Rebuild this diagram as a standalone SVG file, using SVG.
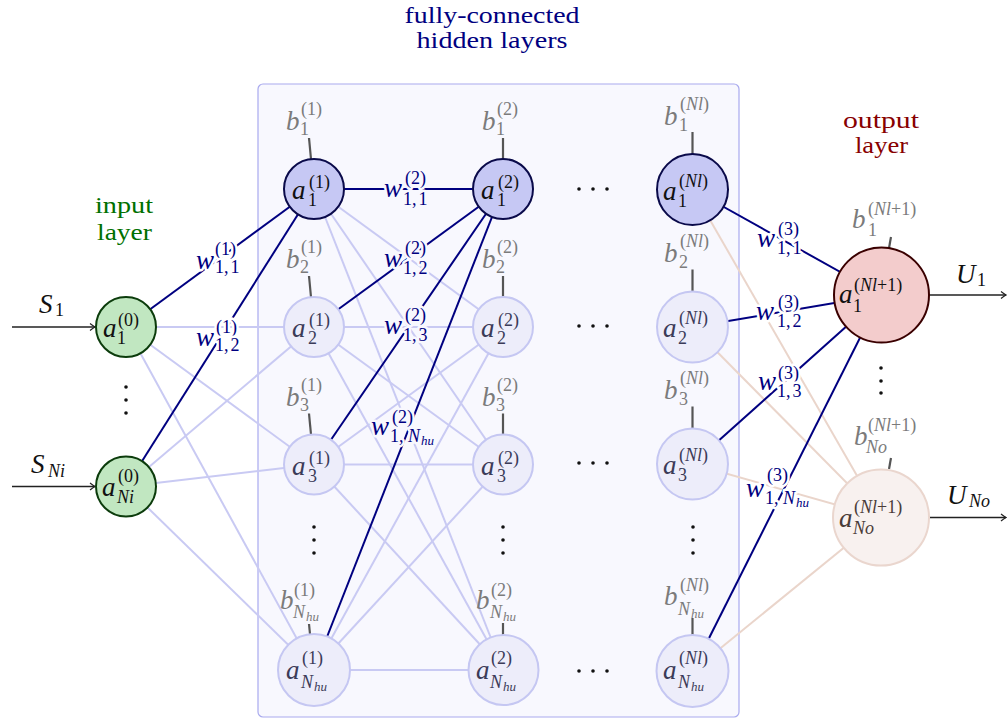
<svg xmlns="http://www.w3.org/2000/svg" width="1008" height="719" viewBox="0 0 1008 719">
  <style>
    .tx { font-family: "Liberation Serif", "DejaVu Serif", serif; }
    .m { font-size: 27px; font-style: italic; }
    .s { font-size: 18px; }
    .ss { font-size: 13px; font-style: italic; }
    .it { font-style: italic; }
    .cap { font-size: 24px; }
    .light { stroke: #c9caf3; stroke-width: 2; fill: none; }
    .beige { stroke: #ead5cb; stroke-width: 2; fill: none; }
    .dark { stroke: #000080; stroke-width: 2; fill: none; }
    .n-in { fill: #c1e7c1; stroke: #0c3c0c; stroke-width: 2; }
    .n-on { fill: #c6c8f4; stroke: #0a0a4a; stroke-width: 2; }
    .n-off { fill: #ededfa; stroke: #c5c7f2; stroke-width: 2; }
    .n-out { fill: #f3cccc; stroke: #3a0000; stroke-width: 2; }
    .n-outoff { fill: #f8f1ef; stroke: #ead6ce; stroke-width: 2; }
    .t-on { fill: #111; }
    .t-off { fill: #3b3b58; }
    .t-outoff { fill: #4a3c38; }
    .bias { fill: #7b7b7b; }
    .tick { stroke: #555; stroke-width: 2.2; }
    .w { fill: #000080; stroke: #ffffff; stroke-width: 5; stroke-linejoin: round; paint-order: stroke; }
    .w-in { stroke: #f8f8fe; }
    .io { stroke: #222; stroke-width: 1.3; fill: none; }
    .dot { fill: #111; }
  </style>
  <defs>
    <marker id="arr" viewBox="-6 -5 7 10" refX="0" refY="0" markerWidth="7" markerHeight="10" markerUnits="userSpaceOnUse" orient="auto">
      <path d="M-5,-3.5 Q-1.5,-0.8 0,0 Q-1.5,0.8 -5,3.5" fill="none" stroke="#222" stroke-width="1.2"/>
    </marker>
  </defs>

  <rect width="1008" height="719" fill="#ffffff"/>

  <!-- hidden layers panel -->
  <rect id="hidden-panel" x="258" y="84" width="481" height="633" rx="5" fill="#f8f8fe" stroke="#a9aaee" stroke-width="1.2"/>

  <!-- captions -->
  <g class="tx cap">
    <text x="404.5" y="23" fill="#000080" textLength="175" lengthAdjust="spacingAndGlyphs">fully-connected</text>
    <text x="416.5" y="48" fill="#000080" textLength="151" lengthAdjust="spacingAndGlyphs">hidden layers</text>
    <text x="95" y="213" fill="#007000" textLength="58" lengthAdjust="spacingAndGlyphs">input</text>
    <text x="97" y="240" fill="#007000" textLength="55" lengthAdjust="spacingAndGlyphs">layer</text>
    <text x="843" y="128" fill="#880000" textLength="76" lengthAdjust="spacingAndGlyphs">output</text>
    <text x="855" y="153" fill="#880000" textLength="53" lengthAdjust="spacingAndGlyphs">layer</text>
  </g>

  <!-- connectors -->
  <g id="connectors">
    <g class="light">
      <line x1="126" y1="327" x2="314" y2="327"/>
      <line x1="126" y1="327" x2="314" y2="464.5"/>
      <line x1="126" y1="327" x2="314" y2="670"/>
      <line x1="126" y1="486.5" x2="314" y2="327"/>
      <line x1="126" y1="486.5" x2="314" y2="464.5"/>
      <line x1="126" y1="486.5" x2="314" y2="670"/>
      <line x1="314" y1="189" x2="503" y2="327"/>
      <line x1="314" y1="189" x2="503" y2="464.5"/>
      <line x1="314" y1="189" x2="503.5" y2="670"/>
      <line x1="314" y1="327" x2="503" y2="327"/>
      <line x1="314" y1="327" x2="503" y2="464.5"/>
      <line x1="314" y1="327" x2="503.5" y2="670"/>
      <line x1="314" y1="464.5" x2="503" y2="327"/>
      <line x1="314" y1="464.5" x2="503" y2="464.5"/>
      <line x1="314" y1="464.5" x2="503.5" y2="670"/>
      <line x1="314" y1="670" x2="503" y2="327"/>
      <line x1="314" y1="670" x2="503" y2="464.5"/>
      <line x1="314" y1="670" x2="503.5" y2="670"/>
    </g>
    <g class="beige">
      <line x1="692.5" y1="189.5" x2="881" y2="517.5"/>
      <line x1="692.5" y1="327" x2="881" y2="517.5"/>
      <line x1="692.5" y1="464" x2="881" y2="517.5"/>
      <line x1="692.5" y1="671" x2="881" y2="517.5"/>
    </g>
    <g class="dark">
      <line x1="126" y1="327" x2="314" y2="189"/>
      <line x1="126" y1="486.5" x2="314" y2="189"/>
      <line x1="314" y1="189" x2="503" y2="189"/>
      <line x1="314" y1="327" x2="503" y2="189"/>
      <line x1="314" y1="464.5" x2="503" y2="189"/>
      <line x1="314" y1="670" x2="503" y2="189"/>
      <line x1="692.5" y1="189.5" x2="881.5" y2="295"/>
      <line x1="692.5" y1="327" x2="881.5" y2="295"/>
      <line x1="692.5" y1="464" x2="881.5" y2="295"/>
      <line x1="692.5" y1="671" x2="881.5" y2="295"/>
    </g>
    <g class="io">
      <line x1="12" y1="327" x2="95" y2="327" marker-end="url(#arr)"/>
      <line x1="12" y1="486.5" x2="95" y2="486.5" marker-end="url(#arr)"/>
      <line x1="929" y1="295" x2="1006" y2="295" marker-end="url(#arr)"/>
      <line x1="929" y1="517.5" x2="1006" y2="517.5" marker-end="url(#arr)"/>
    </g>
    <g class="tick">
      <line x1="309" y1="138" x2="311" y2="159"/>
      <line x1="309" y1="276" x2="311" y2="297"/>
      <line x1="309" y1="413.5" x2="311" y2="434.5"/>
      <line x1="309" y1="624" x2="310" y2="634"/>
      <line x1="503" y1="138" x2="503" y2="159"/>
      <line x1="503" y1="276" x2="503" y2="297"/>
      <line x1="503" y1="413.5" x2="503" y2="434.5"/>
      <line x1="503" y1="623" x2="503" y2="635"/>
      <line x1="692.5" y1="132" x2="692.5" y2="154"/>
      <line x1="692.5" y1="269.5" x2="692.5" y2="291.5"/>
      <line x1="692.5" y1="406.5" x2="692.5" y2="428.5"/>
      <line x1="692.5" y1="618" x2="692.5" y2="635"/>
      <line x1="891" y1="237" x2="889" y2="248"/>
      <line x1="891" y1="458" x2="889" y2="469"/>
    </g>
  </g>

  <!-- input layer -->
  <g id="in1">
    <circle class="n-in" cx="126" cy="327" r="30"/>
    <g class="tx t-on"><text class="m" x="103" y="337">a</text><text class="s" x="118" y="326">(0)</text><text class="s" x="117" y="344">1</text></g>
  </g>
  <g id="inN">
    <circle class="n-in" cx="126" cy="486.5" r="30"/>
    <g class="tx t-on"><text class="m" x="102" y="496">a</text><text class="s" x="118" y="482">(0)</text><text class="s it" x="117" y="503">Ni</text></g>
  </g>
  <g id="in-labels" class="tx" fill="#111">
    <text class="m" x="39" y="313">S</text><text class="s" x="55" y="316">1</text>
    <text class="m" x="31" y="473">S</text><text class="s it" x="48" y="477">Ni</text>
  </g>

  <!-- hidden layer 1 -->
  <g id="h1-1">
    <circle class="n-on" cx="314" cy="189" r="30"/>
    <g class="tx t-on"><text class="m" x="292" y="199">a</text><text class="s" x="309" y="188">(1)</text><text class="s" x="308" y="206">1</text></g>
    <g class="tx bias"><text class="m" x="286" y="130">b</text><text class="s" x="301" y="115">(1)</text><text class="s" x="300" y="135">1</text></g>
  </g>
  <g id="h1-2">
    <circle class="n-off" cx="314" cy="327" r="30"/>
    <g class="tx t-off"><text class="m" x="292" y="337">a</text><text class="s" x="309" y="326">(1)</text><text class="s" x="308" y="344">2</text></g>
    <g class="tx bias"><text class="m" x="286" y="268">b</text><text class="s" x="301" y="253">(1)</text><text class="s" x="300" y="273">2</text></g>
  </g>
  <g id="h1-3">
    <circle class="n-off" cx="314" cy="464.5" r="30"/>
    <g class="tx t-off"><text class="m" x="292" y="474.5">a</text><text class="s" x="309" y="463.5">(1)</text><text class="s" x="308" y="481.5">3</text></g>
    <g class="tx bias"><text class="m" x="286" y="405.5">b</text><text class="s" x="301" y="390.5">(1)</text><text class="s" x="300" y="410.5">3</text></g>
  </g>
  <g id="h1-N">
    <circle class="n-off" cx="314" cy="670" r="36"/>
    <g class="tx t-off"><text class="m" x="286" y="679">a</text><text class="s" x="302" y="664">(1)</text><text class="s it" x="301" y="688">N</text><text class="ss" x="314" y="691">hu</text></g>
    <g class="tx bias"><text class="m" x="280" y="609">b</text><text class="s" x="294" y="596">(1)</text><text class="s it" x="293" y="618">N</text><text class="ss" x="306" y="621">hu</text></g>
  </g>

  <!-- hidden layer 2 -->
  <g id="h2-1">
    <circle class="n-on" cx="503" cy="189" r="30"/>
    <g class="tx t-on"><text class="m" x="481" y="199">a</text><text class="s" x="498" y="188">(2)</text><text class="s" x="497" y="206">1</text></g>
    <g class="tx bias"><text class="m" x="482" y="130">b</text><text class="s" x="497" y="115">(2)</text><text class="s" x="496" y="135">1</text></g>
  </g>
  <g id="h2-2">
    <circle class="n-off" cx="503" cy="327" r="30"/>
    <g class="tx t-off"><text class="m" x="481" y="337">a</text><text class="s" x="498" y="326">(2)</text><text class="s" x="497" y="344">2</text></g>
    <g class="tx bias"><text class="m" x="482" y="268">b</text><text class="s" x="497" y="253">(2)</text><text class="s" x="496" y="273">2</text></g>
  </g>
  <g id="h2-3">
    <circle class="n-off" cx="503" cy="464.5" r="30"/>
    <g class="tx t-off"><text class="m" x="481" y="474.5">a</text><text class="s" x="498" y="463.5">(2)</text><text class="s" x="497" y="481.5">3</text></g>
    <g class="tx bias"><text class="m" x="482" y="405.5">b</text><text class="s" x="497" y="390.5">(2)</text><text class="s" x="496" y="410.5">3</text></g>
  </g>
  <g id="h2-N">
    <circle class="n-off" cx="503.5" cy="670" r="35"/>
    <g class="tx t-off"><text class="m" x="476" y="679">a</text><text class="s" x="491" y="664">(2)</text><text class="s it" x="490" y="688">N</text><text class="ss" x="503" y="691">hu</text></g>
    <g class="tx bias"><text class="m" x="476" y="609">b</text><text class="s" x="491" y="596">(2)</text><text class="s it" x="490" y="618">N</text><text class="ss" x="503" y="621">hu</text></g>
  </g>

  <!-- hidden layer Nl -->
  <g id="hL-1">
    <circle class="n-on" cx="692.5" cy="189.5" r="35.5"/>
    <g class="tx t-on"><text class="m" x="663" y="200">a</text><text class="s" x="679" y="187">(<tspan class="it">Nl</tspan>)</text><text class="s" x="678" y="207">1</text></g>
    <g class="tx bias"><text class="m" x="664" y="125">b</text><text class="s" x="680" y="110">(<tspan class="it">Nl</tspan>)</text><text class="s" x="679" y="131">1</text></g>
  </g>
  <g id="hL-2">
    <circle class="n-off" cx="692.5" cy="327" r="35.5"/>
    <g class="tx t-off"><text class="m" x="663" y="337">a</text><text class="s" x="679" y="324">(<tspan class="it">Nl</tspan>)</text><text class="s" x="678" y="344">2</text></g>
    <g class="tx bias"><text class="m" x="664" y="262">b</text><text class="s" x="680" y="247">(<tspan class="it">Nl</tspan>)</text><text class="s" x="679" y="268">2</text></g>
  </g>
  <g id="hL-3">
    <circle class="n-off" cx="692.5" cy="464" r="35.5"/>
    <g class="tx t-off"><text class="m" x="663" y="474">a</text><text class="s" x="679" y="461">(<tspan class="it">Nl</tspan>)</text><text class="s" x="678" y="481">3</text></g>
    <g class="tx bias"><text class="m" x="664" y="399">b</text><text class="s" x="680" y="384">(<tspan class="it">Nl</tspan>)</text><text class="s" x="679" y="405">3</text></g>
  </g>
  <g id="hL-N">
    <circle class="n-off" cx="692.5" cy="671" r="36"/>
    <g class="tx t-off"><text class="m" x="663" y="679">a</text><text class="s" x="679" y="664">(<tspan class="it">Nl</tspan>)</text><text class="s it" x="678" y="688">N</text><text class="ss" x="691" y="691">hu</text></g>
    <g class="tx bias"><text class="m" x="664" y="605">b</text><text class="s" x="680" y="591">(<tspan class="it">Nl</tspan>)</text><text class="s it" x="678" y="615">N</text><text class="ss" x="691" y="618">hu</text></g>
  </g>

  <!-- output layer -->
  <g id="out1">
    <circle class="n-out" cx="881.5" cy="295" r="47.5"/>
    <g class="tx t-on"><text class="m" x="839" y="303">a</text><text class="s" x="854" y="291">(<tspan class="it">Nl</tspan>+1)</text><text class="s" x="853" y="312">1</text></g>
    <g class="tx bias"><text class="m" x="852" y="228">b</text><text class="s" x="868" y="215">(<tspan class="it">Nl</tspan>+1)</text><text class="s" x="868" y="236">1</text></g>
    <g class="tx" fill="#111"><text class="m" x="956" y="283">U</text><text class="s" x="977" y="286">1</text></g>
  </g>
  <g id="outN">
    <circle class="n-outoff" cx="881" cy="517.5" r="48"/>
    <g class="tx t-outoff"><text class="m" x="839" y="527">a</text><text class="s" x="854" y="513">(<tspan class="it">Nl</tspan>+1)</text><text class="s it" x="853" y="534">No</text></g>
    <g class="tx bias"><text class="m" x="854" y="445">b</text><text class="s" x="868" y="431">(<tspan class="it">Nl</tspan>+1)</text><text class="s it" x="866" y="453">No</text></g>
    <g class="tx" fill="#111"><text class="m" x="947" y="504">U</text><text class="s it" x="969" y="507">No</text></g>
  </g>

  <!-- weight labels -->
  <g id="weights" class="tx w">
    <text class="m" x="196" y="269">w</text><text class="s" x="215" y="255">(1)</text><text class="s" x="215" y="273">1,<tspan dx="2">1</tspan></text>
    <text class="m" x="196" y="346">w</text><text class="s" x="216" y="333">(1)</text><text class="s" x="215" y="351">1,<tspan dx="2">2</tspan></text>
    <g class="w-in">
      <text class="m" x="384" y="197">w</text><text class="s" x="405" y="184">(2)</text><text class="s" x="403" y="205">1,<tspan dx="2">1</tspan></text>
      <text class="m" x="384" y="267">w</text><text class="s" x="405" y="254">(2)</text><text class="s" x="403" y="274">1,<tspan dx="2">2</tspan></text>
      <text class="m" x="384" y="334">w</text><text class="s" x="405" y="321">(2)</text><text class="s" x="403" y="341">1,<tspan dx="2">3</tspan></text>
      <text class="m" x="371" y="435">w</text><text class="s" x="392" y="423">(2)</text><text class="s" x="390" y="442">1,</text><text class="s it" x="408" y="442">N</text><text class="ss" x="421" y="445">hu</text>
    </g>
    <text class="m" x="757" y="247">w</text><text class="s" x="778" y="235">(3)</text><text class="s" x="777" y="254">1,<tspan dx="2">1</tspan></text>
    <text class="m" x="756" y="320">w</text><text class="s" x="778" y="308">(3)</text><text class="s" x="777" y="327">1,<tspan dx="2">2</tspan></text>
    <text class="m" x="758" y="390">w</text><text class="s" x="778" y="379">(3)</text><text class="s" x="777" y="397">1,<tspan dx="2">3</tspan></text>
    <text class="m" x="746" y="497">w</text><text class="s" x="767" y="481">(3)</text><text class="s" x="765" y="504">1,</text><text class="s it" x="783" y="504">N</text><text class="ss" x="796" y="507">hu</text>
  </g>

  <!-- ellipses -->
  <g id="ellipses" class="dot">
    <circle cx="126" cy="387" r="1.8"/><circle cx="126" cy="400" r="1.8"/><circle cx="126" cy="413" r="1.8"/>
    <circle cx="314" cy="527" r="1.8"/><circle cx="314" cy="540" r="1.8"/><circle cx="314" cy="553" r="1.8"/>
    <circle cx="503" cy="527" r="1.8"/><circle cx="503" cy="540" r="1.8"/><circle cx="503" cy="553" r="1.8"/>
    <circle cx="693" cy="527" r="1.8"/><circle cx="693" cy="540" r="1.8"/><circle cx="693" cy="553" r="1.8"/>
    <circle cx="881" cy="368" r="1.8"/><circle cx="881" cy="381" r="1.8"/><circle cx="881" cy="393" r="1.8"/>
    <circle cx="579" cy="189" r="1.8"/><circle cx="593" cy="189" r="1.8"/><circle cx="607" cy="189" r="1.8"/>
    <circle cx="579" cy="326" r="1.8"/><circle cx="593" cy="326" r="1.8"/><circle cx="607" cy="326" r="1.8"/>
    <circle cx="579" cy="463" r="1.8"/><circle cx="593" cy="463" r="1.8"/><circle cx="607" cy="463" r="1.8"/>
    <circle cx="579" cy="671" r="1.8"/><circle cx="593" cy="671" r="1.8"/><circle cx="607" cy="671" r="1.8"/>
  </g>
</svg>
